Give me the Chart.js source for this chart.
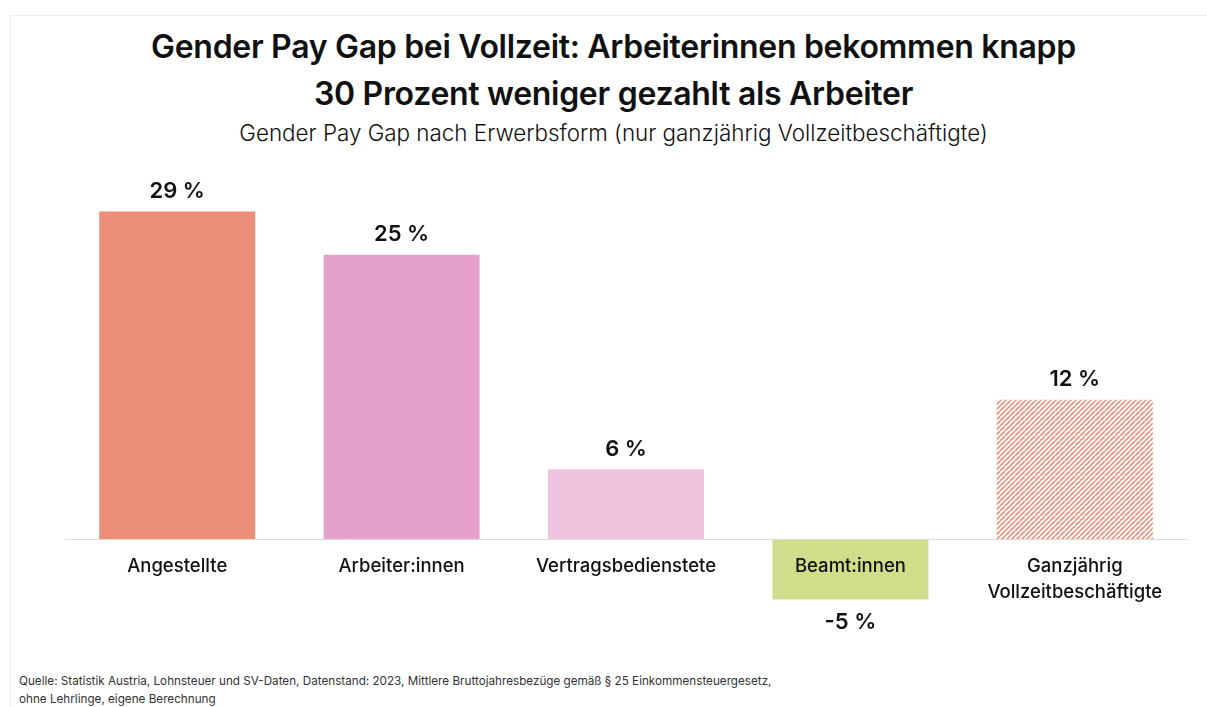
<!DOCTYPE html>
<html lang="de">
<head>
<meta charset="utf-8">
<script src="https://cdn.jsdelivr.net/npm/chart.js@4"></script>
<style>
  html, body { margin: 0; padding: 0; background: #fff; }
  body { width: 1207px; height: 707px; position: relative; overflow: hidden; font-family: Inter, "Noto Sans", sans-serif; color: #111; }
  .card { position: absolute; left: 10px; top: 15px; right: -2px; bottom: -2px; border-top: 1px solid #ececec; border-left: 1px solid #ececec; }
  .title { position: absolute; left: 0; width: 1227px; text-align: center; font-weight: 600; font-size: 32px; line-height: 47px; top: 23px; letter-spacing: -0.3px; }
  .subtitle { position: absolute; left: 0; width: 1227px; text-align: center; font-weight: 300; font-size: 22.4px; top: 119px; }
  .source { position: absolute; left: 19px; top: 672px; font-size: 11.7px; line-height: 18px; color: #333; }
  #wrap { position: absolute; left: 0; top: 151px; width: 1207px; height: 502px; }
</style>
</head>
<body>
<div class="card"></div>
<div class="title">Gender Pay Gap bei Vollzeit: Arbeiterinnen bekommen knapp<br>30 Prozent weniger gezahlt als Arbeiter</div>
<div class="subtitle">Gender Pay Gap nach Erwerbsform (nur ganzjährig Vollzeitbeschäftigte)</div>
<div id="wrap"><canvas id="chart"></canvas></div>
<div class="source">Quelle: Statistik Austria, Lohnsteuer und SV-Daten, Datenstand: 2023, Mittlere Bruttojahresbezüge gemäß § 25 Einkommensteuergesetz,<br>ohne Lehrlinge, eigene Berechnung</div>

<script>
// categories, values, value labels
const categories = [['Angestellte'], ['Arbeiter:innen'], ['Vertragsbedienstete'], ['Beamt:innen'], ['Ganzjährig', 'Vollzeitbeschäftigte']];
const gapValues = [28.7, 24.9, 6.1, -5.3, 12.2];
const valueLabels = ['29 %', '25 %', '6 %', '-5 %', '12 %'];
const barColors = ['#EC8F79', '#E6A0CC', '#F0C3DF', '#CFDE8B', null];

// striped pattern for the total bar
const makeStripes = () => {
  const c = document.createElement('canvas');
  c.width = 5; c.height = 5;
  const g = c.getContext('2d');
  g.strokeStyle = '#EC8F79';
  g.lineWidth = 1.6;
  g.beginPath();
  for (let k = -1; k <= 1; k++) {
    g.moveTo(k * 5, 5);
    g.lineTo(k * 5 + 5, 0);
  }
  g.stroke();
  return g.createPattern(c, 'repeat');
};
const colors = barColors.map(c => c || makeStripes());

const labelPlugin = {
  id: 'labels',
  afterDatasetsDraw(chart) {
    const { ctx, scales } = chart;
    const meta = chart.getDatasetMeta(0);
    const zeroY = scales.y.getPixelForValue(0);
    ctx.save();
    // baseline
    ctx.strokeStyle = '#dcdcdc';
    ctx.lineWidth = 1;
    ctx.beginPath();
    ctx.moveTo(chart.chartArea.left, Math.round(zeroY) + 0.5);
    ctx.lineTo(chart.chartArea.right, Math.round(zeroY) + 0.5);
    ctx.stroke();

    ctx.textAlign = 'center';
    ctx.textBaseline = 'middle';
    ctx.fillStyle = '#111';
    meta.data.forEach((bar, i) => {
      // value label
      ctx.font = '600 22px Inter, "Noto Sans", sans-serif';
      const v = gapValues[i];
      const y = v >= 0 ? bar.y - 20 : bar.y + 23;
      ctx.fillText(valueLabels[i], bar.x, y);
      // category label
      ctx.font = '500 18.5px Inter, "Noto Sans", sans-serif';
      categories[i].forEach((line, j) => {
        ctx.fillText(line, bar.x, zeroY + 28 + j * 26);
      });
    });
    ctx.restore();
  }
};

new Chart(document.getElementById('chart'), {
  type: 'bar',
  data: {
    labels: categories,
    datasets: [{
      data: gapValues,
      backgroundColor: colors,
      borderWidth: 0,
      categoryPercentage: 1,
      barPercentage: 0.695
    }]
  },
  options: {
    responsive: true,
    maintainAspectRatio: false,
    animation: false,
    layout: { padding: { left: 65, right: 20, top: 0, bottom: 0 } },
    plugins: { legend: { display: false }, tooltip: { enabled: false } },
    scales: {
      x: { display: false },
      y: { display: false, min: -10, max: 34 }
    }
  },
  plugins: [labelPlugin]
});
</script>
</body>
</html>
